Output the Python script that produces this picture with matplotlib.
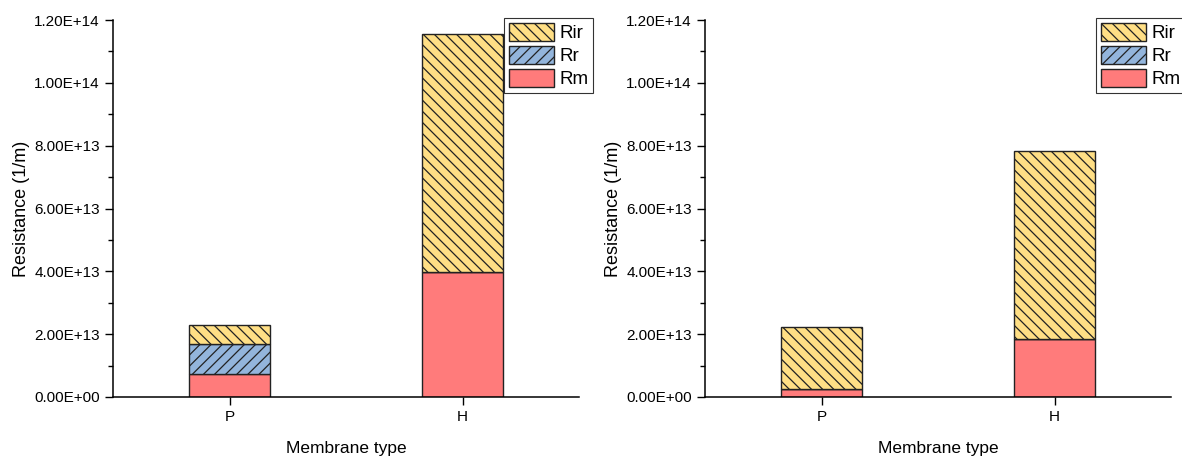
import numpy as np
import matplotlib.pyplot as plt
from matplotlib.ticker import FuncFormatter, MultipleLocator

plt.rcParams['font.family'] = ['Liberation Sans', 'DejaVu Sans']
plt.rcParams['hatch.linewidth'] = 0.9

# membrane types and resistance components (1/m)
membranes = ['P', 'H']
rm_left = [7.3e12, 3.98e13]
rr_left = [9.6e12, 0.0]
rir_left = [6.0e12, 7.58e13]

rm_right = [2.4e12, 1.85e13]
rr_right = [0.0, 0.0]
rir_right = [1.99e13, 5.98e13]

c_rm = '#FF7B7B'
c_rr = '#93B5DC'
c_rir = '#FFDF85'

fig = plt.figure(figsize=(11.82, 4.57), dpi=100)
ax1 = fig.add_axes([113/1182, 60/457, 466/1182, 377/457])
ax2 = fig.add_axes([705/1182, 60/457, 466/1182, 377/457])

sci = FuncFormatter(lambda v, p: f'{v:.2E}')

def stacked(ax, rm, rr, rir):
    x = np.arange(1, len(membranes) + 1)
    rm = np.array(rm)
    rr = np.array(rr)
    rir = np.array(rir)
    w = 0.35
    ax.bar(x, rm, w, color=c_rm, edgecolor='#222222', linewidth=1.0, label='Rm')
    ax.bar(x, rr, w, bottom=rm, color=c_rr, edgecolor='#222222', linewidth=1.0,
           hatch='///', label='Rr')
    ax.bar(x, rir, w, bottom=rm + rr, color=c_rir, edgecolor='#222222', linewidth=1.0,
           hatch='\\\\\\', label='Rir')
    ax.set_xlim(0.5, 2.5)
    ax.set_ylim(0, 1.2e14)
    ax.set_xticks(x)
    ax.set_xticklabels(membranes, fontsize=11)
    ax.yaxis.set_major_locator(MultipleLocator(2e13))
    ax.yaxis.set_minor_locator(MultipleLocator(1e13))
    ax.yaxis.set_major_formatter(sci)
    ax.tick_params(axis='y', which='major', direction='out', length=6, width=1, labelsize=11)
    ax.tick_params(axis='y', which='minor', direction='out', length=3.5, width=1)
    ax.tick_params(axis='x', direction='out', length=6, width=1)
    for s in ['top', 'right']:
        ax.spines[s].set_visible(False)
    for s in ['left', 'bottom']:
        ax.spines[s].set_linewidth(1.1)
    ax.set_xlabel('Membrane type', fontsize=12.5, labelpad=12)
    ax.set_ylabel('Resistance (1/m)', fontsize=13, labelpad=3)
    h, l = ax.get_legend_handles_labels()
    leg = ax.legend(h[::-1], l[::-1], loc='upper right', bbox_to_anchor=(1.03, 1.005),
                    fontsize=13.5, frameon=True, fancybox=False, edgecolor='black',
                    handlelength=2.4, handleheight=1.1, labelspacing=0.2,
                    borderpad=0.25, handletextpad=0.3, borderaxespad=0)
    leg.get_frame().set_linewidth(0.8)

stacked(ax1, rm_left, rr_left, rir_left)
stacked(ax2, rm_right, rr_right, rir_right)

fig.savefig('out.png', dpi=100)
